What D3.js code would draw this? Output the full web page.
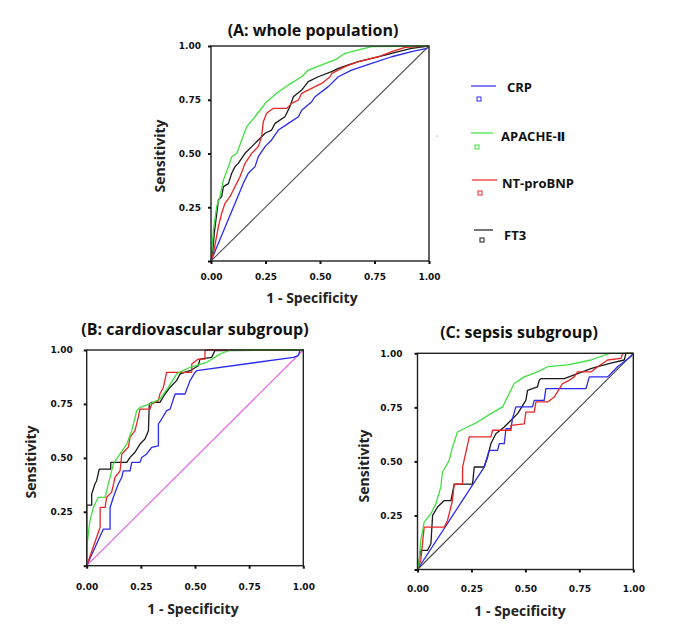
<!DOCTYPE html>
<html>
<head>
<meta charset="utf-8">
<style>
  body { margin: 0; background: #fff; }
  .ttl { font-family: "Open Sans", sans-serif; font-weight: 700; font-size: 16px; fill: #111; }
  .lbl { font-family: "Open Sans", sans-serif; font-weight: 700; font-size: 14px; fill: #222; }
  .leg { font-family: "Open Sans", "DejaVu Sans", sans-serif; font-weight: 700; font-size: 13px; fill: #111; }
  .tick text { font-family: "DejaVu Sans", sans-serif; font-weight: 700; font-size: 9px; fill: #111; }
  .tick line { stroke: #111; stroke-width: 2; }
  .domain { display: none; }
</style>
<script src="https://d3js.org/d3.v7.min.js"></script>
</head>
<body>
<svg width="685" height="631"></svg>
<script>
// ROC coordinates [1 - specificity, sensitivity]
var markers = ["CRP", "APACHE-\u2161", "NT-proBNP", "FT3"];
var colors = ["#2a2af0", "#3fe03f", "#e82626", "#1a1a1a"];
var xTicks = [0, 0.25, 0.5, 0.75, 1];
var yTicks = [0, 0.25, 0.5, 0.75, 1];

var aCRP = [[0,0],[0.148,0.361],[0.171,0.408],[0.202,0.439],[0.217,0.485],[0.248,0.532],[0.278,0.563],[0.309,0.609],[0.355,0.640],[0.401,0.671],[0.416,0.701],[0.462,0.741],[0.477,0.764],[0.538,0.811],[0.584,0.857],[0.645,0.888],[0.737,0.919],[0.829,0.950],[0.920,0.974],[0.990,0.989],[1,1]];
var aAPACHE = [[0,0],[0.011,0.144],[0.026,0.253],[0.041,0.299],[0.057,0.377],[0.080,0.439],[0.095,0.485],[0.118,0.501],[0.141,0.563],[0.164,0.625],[0.202,0.671],[0.255,0.741],[0.301,0.780],[0.355,0.819],[0.416,0.857],[0.446,0.888],[0.508,0.912],[0.569,0.935],[0.615,0.966],[0.645,0.974],[0.737,0.997],[1,1]];
var aBNP = [[0,0],[0.011,0.036],[0.034,0.160],[0.049,0.222],[0.064,0.268],[0.087,0.299],[0.110,0.346],[0.133,0.392],[0.156,0.454],[0.187,0.501],[0.217,0.532],[0.232,0.578],[0.240,0.648],[0.255,0.687],[0.286,0.710],[0.347,0.710],[0.370,0.733],[0.401,0.749],[0.416,0.780],[0.477,0.811],[0.508,0.826],[0.546,0.857],[0.554,0.873],[0.615,0.904],[0.676,0.927],[0.768,0.950],[0.829,0.974],[0.890,0.994],[1,1]];
var aFT3 = [[0,0],[0.006,0.02],[0.015,0.129],[0.034,0.284],[0.049,0.300],[0.057,0.346],[0.080,0.360],[0.095,0.408],[0.110,0.439],[0.125,0.454],[0.156,0.501],[0.187,0.532],[0.217,0.563],[0.248,0.594],[0.278,0.609],[0.294,0.640],[0.339,0.671],[0.362,0.718],[0.378,0.764],[0.416,0.795],[0.446,0.834],[0.492,0.857],[0.553,0.881],[0.584,0.896],[0.630,0.912],[0.676,0.927],[0.737,0.943],[0.798,0.958],[0.859,0.974],[0.920,0.989],[0.980,0.997],[1,1]];

var bCRP = [[0,0],[0.077,0.170],[0.108,0.170],[0.108,0.270],[0.123,0.317],[0.146,0.379],[0.162,0.410],[0.169,0.440],[0.200,0.440],[0.208,0.479],[0.246,0.479],[0.254,0.502],[0.277,0.518],[0.300,0.549],[0.331,0.556],[0.331,0.657],[0.346,0.680],[0.369,0.719],[0.385,0.726],[0.408,0.796],[0.454,0.796],[0.477,0.858],[0.500,0.896],[0.508,0.904],[0.954,0.966],[0.977,0.974],[0.985,1],[1,1]];
var bAPACHE = [[0,0],[0,0.085],[0.015,0.209],[0.031,0.270],[0.038,0.286],[0.054,0.317],[0.085,0.317],[0.100,0.379],[0.123,0.471],[0.154,0.518],[0.185,0.564],[0.208,0.626],[0.231,0.719],[0.246,0.734],[0.292,0.750],[0.338,0.773],[0.377,0.827],[0.415,0.889],[0.477,0.920],[0.554,0.943],[0.615,0.981],[0.662,1],[1,1]];
var bBNP = [[0,0],[0.062,0.178],[0.062,0.270],[0.085,0.270],[0.092,0.317],[0.115,0.340],[0.131,0.410],[0.154,0.440],[0.162,0.518],[0.192,0.549],[0.200,0.595],[0.223,0.626],[0.238,0.688],[0.246,0.726],[0.292,0.726],[0.300,0.750],[0.331,0.765],[0.338,0.796],[0.354,0.827],[0.369,0.896],[0.485,0.896],[0.485,0.935],[0.515,0.958],[0.546,0.958],[0.546,1],[1,1]];
var bFT3 = [[0,0],[0,0.281],[0.023,0.281],[0.023,0.332],[0.038,0.379],[0.046,0.394],[0.058,0.448],[0.111,0.448],[0.111,0.479],[0.185,0.479],[0.200,0.502],[0.223,0.526],[0.246,0.564],[0.269,0.587],[0.285,0.626],[0.289,0.750],[0.300,0.757],[0.338,0.757],[0.362,0.796],[0.385,0.827],[0.415,0.858],[0.431,0.889],[0.477,0.904],[0.515,0.927],[0.523,0.958],[0.577,0.966],[0.592,0.997],[1,1]];

var cCRP = [[0,0],[0.309,0.474],[0.332,0.551],[0.371,0.551],[0.379,0.582],[0.402,0.582],[0.410,0.651],[0.433,0.651],[0.440,0.698],[0.456,0.752],[0.533,0.752],[0.541,0.782],[0.587,0.782],[0.595,0.837],[0.781,0.837],[0.796,0.891],[0.881,0.891],[0.927,0.938],[0.989,0.985],[1,1]];
var cAPACHE = [[0,0],[0.008,0.042],[0.015,0.134],[0.031,0.219],[0.062,0.258],[0.085,0.304],[0.108,0.381],[0.116,0.451],[0.147,0.505],[0.162,0.566],[0.185,0.636],[0.232,0.659],[0.278,0.682],[0.340,0.721],[0.394,0.752],[0.448,0.860],[0.495,0.891],[0.556,0.914],[0.603,0.938],[0.696,0.946],[0.804,0.969],[0.889,1],[1,1]];
var cBNP = [[0,0],[0.015,0.042],[0.031,0.196],[0.124,0.196],[0.139,0.227],[0.162,0.319],[0.170,0.395],[0.209,0.395],[0.209,0.474],[0.240,0.613],[0.340,0.613],[0.348,0.644],[0.433,0.644],[0.433,0.667],[0.495,0.674],[0.502,0.728],[0.541,0.728],[0.549,0.775],[0.603,0.775],[0.634,0.798],[0.672,0.860],[0.703,0.875],[0.726,0.891],[0.742,0.914],[0.804,0.914],[0.835,0.938],[0.881,0.969],[0.943,0.977],[0.951,1],[1,1]];
var cFT3 = [[0,0],[0.008,0.042],[0.015,0.088],[0.046,0.088],[0.062,0.119],[0.070,0.250],[0.093,0.289],[0.124,0.319],[0.155,0.319],[0.170,0.395],[0.255,0.395],[0.263,0.474],[0.309,0.474],[0.325,0.520],[0.340,0.582],[0.363,0.628],[0.402,0.659],[0.433,0.690],[0.464,0.721],[0.502,0.782],[0.510,0.829],[0.556,0.845],[0.564,0.875],[0.572,0.883],[0.680,0.883],[0.742,0.906],[0.804,0.929],[0.835,0.938],[0.896,0.954],[0.958,0.969],[0.966,1],[0.989,1],[1,1]];

var refLine = [[0,0],[1,1]];

var svg = d3.select("svg");

var panels = [
  {title: "(A: whole population)", series: [aCRP, aAPACHE, aBNP, aFT3], diag: "#555",
   l: 211, r: 429, t: 46, b: 261, tx: 313, ty: 30, xlx: 312, xly: 297, ylx: 159, yly: 156, pad: 7, xoff: 13},
  {title: "(B: cardiovascular subgroup)", series: [bCRP, bAPACHE, bBNP, bFT3], diag: "#e060e0",
   l: 86.7, r: 303.3, t: 350, b: 565.7, tx: 195, ty: 329, xlx: 193, xly: 608, ylx: 30, yly: 462, pad: 11, xoff: 18},
  {title: "(C: sepsis subgroup)", series: [cCRP, cAPACHE, cBNP, cFT3], diag: "#444",
   l: 417.5, r: 633.3, t: 353.3, b: 569.5, tx: 519, ty: 332, xlx: 520, xly: 610, ylx: 363, yly: 466, pad: 12, xoff: 16}
];

panels.forEach(function(p) {
  var x = d3.scaleLinear().domain([0, 1]).range([p.l, p.r]);
  var y = d3.scaleLinear().domain([0, 1]).range([p.b, p.t]);
  var g = svg.append("g");

  var line = d3.line()
    .x(function(d) { return x(d[0]); })
    .y(function(d) { return y(d[1]); });

  g.append("path")
    .datum(refLine)
    .attr("fill", "none")
    .attr("stroke", p.diag)
    .attr("stroke-width", 1.1)
    .attr("d", line);

  // draw FT3 first so coloured curves stay visible, like the original
  [3, 0, 2, 1].forEach(function(i) {
    g.append("path")
      .datum(p.series[i])
      .attr("fill", "none")
      .attr("stroke", colors[i])
      .attr("stroke-width", 1.3)
      .attr("stroke-linejoin", "round")
      .attr("d", line);
  });

  g.append("rect")
    .attr("x", p.l).attr("y", p.t)
    .attr("width", p.r - p.l).attr("height", p.b - p.t)
    .attr("fill", "none")
    .attr("stroke", "#222")
    .attr("stroke-width", 1.4);

  g.append("g")
    .attr("transform", "translate(" + p.l + ",0)")
    .call(d3.axisLeft(y).tickValues(yTicks).tickSize(3).tickPadding(p.pad)
      .tickFormat(function(d) { return d === 0 ? "" : d3.format(".2f")(d); }));

  g.append("g")
    .attr("transform", "translate(0," + p.b + ")")
    .call(d3.axisBottom(x).tickValues(xTicks).tickSize(3).tickPadding(p.xoff - 3)
      .tickFormat(d3.format(".2f")));

  g.append("text").attr("class", "ttl")
    .attr("x", p.tx).attr("y", p.ty)
    .attr("text-anchor", "middle").attr("dominant-baseline", "central")
    .text(p.title);

  g.append("text").attr("class", "lbl")
    .attr("x", p.xlx).attr("y", p.xly)
    .attr("text-anchor", "middle").attr("dominant-baseline", "central")
    .text("1 - Specificity");

  g.append("text").attr("class", "lbl")
    .attr("transform", "translate(" + p.ylx + "," + p.yly + ") rotate(-90)")
    .attr("text-anchor", "middle").attr("dominant-baseline", "central")
    .text("Sensitivity");
});

// legend
var legY = d3.scaleBand().domain(markers).range([86, 282]).align(0);
var leg = svg.append("g");
markers.forEach(function(m, i) {
  var yy = [86, 133, 180, 230][i];
  var x0 = [471, 471, 472, 474][i], x1 = [496, 493, 497, 493][i];
  leg.append("line")
    .attr("x1", x0).attr("x2", x1).attr("y1", yy).attr("y2", yy)
    .attr("stroke", colors[i]).attr("stroke-width", 1.2);
  leg.append("rect")
    .attr("x", [477, 475, 478, 480][i]).attr("y", yy + [11, 12, 11, 8][i])
    .attr("width", 4).attr("height", 4)
    .attr("fill", "none").attr("stroke", colors[i]).attr("stroke-width", 1);
  leg.append("text").attr("class", "leg")
    .attr("x", [507, 501, 502, 504][i]).attr("y", yy + [1, 3, 3, 5][i])
    .attr("dominant-baseline", "central")
    .text(m);
});
leg.append("rect").attr("x", 436.5).attr("y", 135.5).attr("width", 1.2).attr("height", 1.2).attr("fill", colors[1]);
</script>
</body>
</html>
